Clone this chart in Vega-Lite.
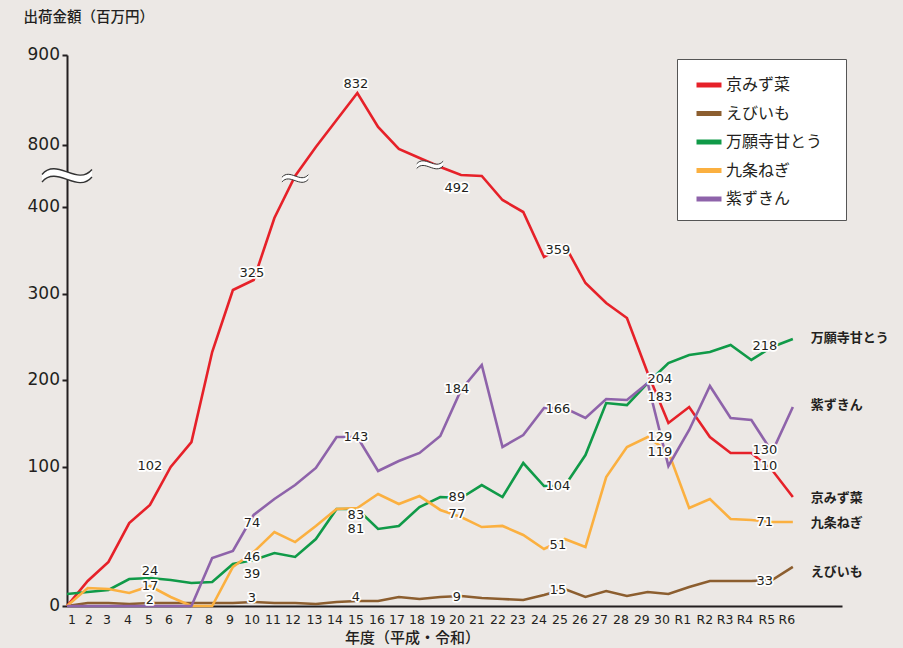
{
  "$schema": "https://vega.github.io/schema/vega-lite/v6.json",
  "width": 775,
  "height": 551,
  "autosize": {"type": "none"},
  "padding": {"left": 67, "top": 55, "right": 61, "bottom": 42},
  "background": "#ece8e5",
  "config": {
    "view": {"stroke": null},
    "font": "Noto Sans CJK JP",
    "axis": {"labelOverlap": false, "grid": false, "labelFlush": false}
  },
  "datasets": {
    "series": [
      {"i": 1, "京みず菜": 0, "えびいも": 0, "万願寺甘とう": 8.6, "九条ねぎ": 0, "紫ずきん": 0},
      {"i": 2, "京みず菜": 18, "えびいも": 2.2, "万願寺甘とう": 10.1, "九条ねぎ": 12.9, "紫ずきん": 0},
      {"i": 3, "京みず菜": 31.7, "えびいも": 2.2, "万願寺甘とう": 11.5, "九条ねぎ": 12.2, "紫ずきん": 0},
      {"i": 4, "京みず菜": 59.7, "えびいも": 1.4, "万願寺甘とう": 19.4, "九条ねぎ": 9.4, "紫ずきん": 0},
      {"i": 5, "京みず菜": 72.7, "えびいも": 2.2, "万願寺甘とう": 20.1, "九条ねぎ": 14.4, "紫ずきん": 0},
      {"i": 6, "京みず菜": 100, "えびいも": 2.2, "万願寺甘とう": 18.7, "九条ねぎ": 6.5, "紫ずきん": 0},
      {"i": 7, "京みず菜": 128.8, "えびいも": 2.2, "万願寺甘とう": 16.5, "九条ねぎ": 0, "紫ずきん": 0},
      {"i": 8, "京みず菜": 232.7, "えびいも": 2.2, "万願寺甘とう": 17.3, "九条ねぎ": 0, "紫ずきん": 34.5},
      {"i": 9, "京みず菜": 304.2, "えびいも": 2.2, "万願寺甘とう": 30.2, "九条ねぎ": 28.1, "紫ずきん": 39.6},
      {"i": 10, "京みず菜": 315.8, "えびいも": 2.9, "万願寺甘とう": 33.1, "九条ねぎ": 38.8, "紫ずきん": 65.5},
      {"i": 11, "京みず菜": 387.3, "えびいも": 2.2, "万願寺甘とう": 38.1, "九条ねぎ": 53.2, "紫ずきん": 77.0},
      {"i": 12, "京みず菜": 600, "えびいも": 2.2, "万願寺甘とう": 35.3, "九条ねぎ": 46.0, "紫ずきん": 87.0},
      {"i": 13, "京みず菜": 787, "えびいも": 1.4, "万願寺甘とう": 48.2, "九条ねぎ": 57.6, "紫ずきん": 99.3},
      {"i": 14, "京みず菜": 827.8, "えびいも": 2.9, "万願寺甘とう": 69.8, "九条ねぎ": 69.8, "紫ずきん": 134.6},
      {"i": 15, "京みず菜": 857.8, "えびいも": 3.6, "万願寺甘とう": 69.8, "九条ねぎ": 70.5, "紫ずきん": 134.6},
      {"i": 16, "京みず菜": 820, "えびいも": 3.6, "万願寺甘とう": 55.4, "九条ねぎ": 80.6, "紫ずきん": 97.1},
      {"i": 17, "京みず菜": 774.2, "えびいも": 6.5, "万願寺甘とう": 57.6, "九条ねぎ": 73.4, "紫ずきん": 106.9},
      {"i": 18, "京みず菜": 716.1, "えびいも": 5.0, "万願寺甘とう": 71.2, "九条ねぎ": 79.1, "紫ずきん": 116.2},
      {"i": 19, "京みず菜": 658.1, "えびいも": 6.5, "万願寺甘とう": 78.4, "九条ねぎ": 69.1, "紫ずきん": 135.8},
      {"i": 20, "京みず菜": 606.5, "えびいも": 7.2, "万願寺甘とう": 77.7, "九条ねぎ": 64.0, "紫ずきん": 188.8},
      {"i": 21, "京みず菜": 600, "えびいも": 5.8, "万願寺甘とう": 87.0, "九条ねぎ": 56.8, "紫ずきん": 217.7},
      {"i": 22, "京みず菜": 445.2, "えびいも": 5.0, "万願寺甘とう": 78.4, "九条ねぎ": 57.6, "紫ずきん": 123.1},
      {"i": 23, "京みず菜": 394.2, "えびいも": 4.3, "万願寺甘とう": 104.6, "九条ねぎ": 51.1, "紫ずきん": 136.9},
      {"i": 24, "京みず菜": 342.3, "えびいも": 7.9, "万願寺甘とう": 86.3, "九条ねぎ": 41.0, "紫ずきん": 168.1},
      {"i": 25, "京みず菜": 356.1, "えびいも": 12.2, "万願寺甘とう": 86.3, "九条ねぎ": 48.2, "紫ずきん": 168.1},
      {"i": 26, "京みず菜": 312.3, "えびいも": 6.5, "万願寺甘とう": 113.8, "九条ねぎ": 42.4, "紫ずきん": 156.5},
      {"i": 27, "京みず菜": 289.2, "えびいも": 10.8, "万願寺甘とう": 173.8, "九条ねぎ": 92.8, "紫ずきん": 178.5},
      {"i": 28, "京みず菜": 271.9, "えびいも": 7.2, "万願寺甘とう": 171.5, "九条ねぎ": 123.1, "紫ずきん": 177.3},
      {"i": 29, "京みず菜": 208.5, "えびいも": 10.1, "万願寺甘とう": 196.9, "九条ねぎ": 134.6, "紫ずきん": 196.9},
      {"i": 30, "京みず菜": 150.8, "えびいも": 8.6, "万願寺甘とう": 220, "九条ねぎ": 117.3, "紫ずきん": 101.2},
      {"i": 31, "京みず菜": 169.2, "えびいも": 13.7, "万願寺甘とう": 229.2, "九条ねぎ": 70.5, "紫ずきん": 142.7},
      {"i": 32, "京みず菜": 134.6, "えびいも": 18.0, "万願寺甘とう": 232.7, "九条ねぎ": 77.0, "紫ずきん": 193.5},
      {"i": 33, "京みず菜": 116.2, "えびいも": 18.0, "万願寺甘とう": 240.8, "九条ねぎ": 62.6, "紫ずきん": 156.5},
      {"i": 34, "京みず菜": 116.2, "えびいも": 18.0, "万願寺甘とう": 223.5, "九条ねぎ": 61.9, "紫ずきん": 154.2},
      {"i": 35, "京みず菜": 97.8, "えびいも": 18.7, "万願寺甘とう": 238.5, "九条ねぎ": 60.4, "紫ずきん": 117.3},
      {"i": 36, "京みず菜": 78.4, "えびいも": 28.1, "万願寺甘とう": 247.7, "九条ねぎ": 60.4, "紫ずきん": 169.2}
    ],
    "labels": [
      {"i": 5.0, "v": 101.2, "t": "102"},
      {"i": 9.92, "v": 323.8, "t": "325"},
      {"i": 14.93, "v": 867.8, "t": "832"},
      {"i": 19.8, "v": 522.6, "t": "492"},
      {"i": 24.67, "v": 350.4, "t": "359"},
      {"i": 29.59, "v": 201.5, "t": "204"},
      {"i": 29.59, "v": 180.8, "t": "183"},
      {"i": 29.59, "v": 134.6, "t": "129"},
      {"i": 29.59, "v": 117.3, "t": "119"},
      {"i": 34.65, "v": 119.6, "t": "130"},
      {"i": 34.65, "v": 101.2, "t": "110"},
      {"i": 34.65, "v": 60.4, "t": "71"},
      {"i": 34.65, "v": 239.6, "t": "218"},
      {"i": 34.65, "v": 18.0, "t": "33"},
      {"i": 14.93, "v": 134.6, "t": "143"},
      {"i": 19.8, "v": 190.0, "t": "184"},
      {"i": 24.67, "v": 166.9, "t": "166"},
      {"i": 24.67, "v": 86.3, "t": "104"},
      {"i": 19.8, "v": 78.4, "t": "89"},
      {"i": 19.8, "v": 66.2, "t": "77"},
      {"i": 14.93, "v": 65.2, "t": "83"},
      {"i": 14.93, "v": 55.6, "t": "81"},
      {"i": 24.67, "v": 43.9, "t": "51"},
      {"i": 14.93, "v": 6.5, "t": "4"},
      {"i": 19.8, "v": 6.5, "t": "9"},
      {"i": 24.67, "v": 11.5, "t": "15"},
      {"i": 9.92, "v": 59.7, "t": "74"},
      {"i": 9.92, "v": 34.9, "t": "46"},
      {"i": 9.92, "v": 23.3, "t": "39"},
      {"i": 5.0, "v": 24.9, "t": "24"},
      {"i": 5.0, "v": 14.7, "t": "17"},
      {"i": 5.0, "v": 4.3, "t": "2"},
      {"i": 9.92, "v": 5.8, "t": "3"}
    ],
    "xlabels": [
      {"i": 1.24, "v": 0, "t": "1"}, {"i": 2.06, "v": 0, "t": "2"}, {"i": 2.93, "v": 0, "t": "3"},
      {"i": 3.94, "v": 0, "t": "4"}, {"i": 4.95, "v": 0, "t": "5"}, {"i": 5.92, "v": 0, "t": "6"},
      {"i": 6.88, "v": 0, "t": "7"}, {"i": 7.85, "v": 0, "t": "8"}, {"i": 8.86, "v": 0, "t": "9"},
      {"i": 9.92, "v": 0, "t": "10"}, {"i": 10.93, "v": 0, "t": "11"}, {"i": 11.9, "v": 0, "t": "12"},
      {"i": 12.93, "v": 0, "t": "13"}, {"i": 13.92, "v": 0, "t": "14"}, {"i": 14.93, "v": 0, "t": "15"},
      {"i": 15.95, "v": 0, "t": "16"}, {"i": 16.91, "v": 0, "t": "17"}, {"i": 17.88, "v": 0, "t": "18"},
      {"i": 18.86, "v": 0, "t": "19"}, {"i": 19.8, "v": 0, "t": "20"}, {"i": 20.77, "v": 0, "t": "21"},
      {"i": 21.78, "v": 0, "t": "22"}, {"i": 22.74, "v": 0, "t": "23"}, {"i": 23.76, "v": 0, "t": "24"},
      {"i": 24.77, "v": 0, "t": "25"}, {"i": 25.74, "v": 0, "t": "26"}, {"i": 26.7, "v": 0, "t": "27"},
      {"i": 27.71, "v": 0, "t": "28"}, {"i": 28.72, "v": 0, "t": "29"}, {"i": 29.69, "v": 0, "t": "30"},
      {"i": 30.7, "v": 0, "t": "R1"}, {"i": 31.76, "v": 0, "t": "R2"}, {"i": 32.73, "v": 0, "t": "R3"},
      {"i": 33.69, "v": 0, "t": "R4"}, {"i": 34.75, "v": 0, "t": "R5"}, {"i": 35.71, "v": 0, "t": "R6"}
    ],
    "ylabels": [
      {"i": 1, "v": 0, "t": "0"}, {"i": 1, "v": 100, "t": "100"}, {"i": 1, "v": 200, "t": "200"},
      {"i": 1, "v": 300, "t": "300"}, {"i": 1, "v": 400, "t": "400"}, {"i": 1, "v": 800, "t": "800"},
      {"i": 1, "v": 900, "t": "900"}
    ],
    "ends": [
      {"i": 36, "v": 248.8, "s": "万願寺甘とう"},
      {"i": 36, "v": 171.5, "s": "紫ずきん"},
      {"i": 36, "v": 77.7, "s": "京みず菜"},
      {"i": 36, "v": 59.7, "s": "九条ねぎ"},
      {"i": 36, "v": 24.5, "s": "えびいも"}
    ],
    "breaks": [
      {"i": 1, "v": 626, "k": "axis"},
      {"i": 12, "v": 600, "k": "line"},
      {"i": 18.5, "v": 687, "k": "line"}
    ]
  },
  "layer": [
    {
      "data": {"name": "series"},
      "transform": [{"fold": ["京みず菜", "えびいも", "万願寺甘とう", "九条ねぎ", "紫ずきん"], "as": ["s", "v"]}],
      "mark": {"type": "line", "strokeWidth": 2.6, "strokeJoin": "miter"},
      "encoding": {
        "x": {
          "field": "i", "type": "quantitative",
          "scale": {"domain": [1, 38.37], "nice": false, "zero": false},
          "axis": {
            "title": "年度（平成・令和）",
            "titleFont": "Noto Sans CJK JP", "titleFontSize": 15, "titleFontWeight": 500, "titleColor": "#231f20",
            "titleX": 345, "titleY": 31, "titleAlign": "center", "titleBaseline": "middle", "titleAnchor": null,
            "labels": false, "ticks": false, "domainColor": "#231f20", "domainWidth": 2, "grid": false
          }
        },
        "y": {
          "field": "v", "type": "quantitative",
          "scale": {"type": "linear", "domain": [0, 100, 400, 800, 900], "range": [551, 412, 152, 90, 0], "nice": false, "zero": false},
          "axis": {
            "title": "出荷金額（百万円）",
            "titleFont": "Noto Sans CJK JP", "titleFontSize": 14.5, "titleFontWeight": 500, "titleColor": "#231f20",
            "titleAngle": 0, "titleAlign": "left", "titleBaseline": "middle", "titleX": -44, "titleY": -37.5, "titleAnchor": null,
            "values": [0, 100, 200, 300, 400, 800, 900],
            "labels": false,
            "tickSize": 5, "tickColor": "#231f20", "tickWidth": 2,
            "domainColor": "#231f20", "domainWidth": 2, "grid": false
          }
        },
        "color": {
          "field": "s", "type": "nominal",
          "scale": {
            "domain": ["京みず菜", "えびいも", "万願寺甘とう", "九条ねぎ", "紫ずきん"],
            "range": ["#e62129", "#8c5e2f", "#109a48", "#fbb040", "#8e63aa"]
          },
          "legend": {
            "title": null, "orient": "none", "legendX": 610, "legendY": 4,
            "fillColor": "white", "strokeColor": "#555555", "padding": 11,
            "symbolType": "stroke", "symbolSize": 625, "symbolStrokeWidth": 5, "symbolOffset": 6,
            "labelFont": "Noto Sans CJK JP", "labelFontSize": 16, "labelColor": "#231f20",
            "labelOffset": 2, "rowPadding": 3.5, "labelExpr": "datum.label + '⠀'"
          }
        }
      }
    },
    {
      "data": {"name": "breaks"},
      "transform": [{"filter": "datum.k == 'axis'"}],
      "mark": {"type": "point", "shape": "M -1 0.1 C -0.4 -0.6 0.4 0.6 1 -0.1 L 1 0.2 C 0.4 0.9 -0.4 -0.3 -1 0.4 Z", "size": 2500, "filled": true, "fill": "white", "opacity": 1, "strokeWidth": 0},
      "encoding": {"x": {"field": "i", "type": "quantitative"}, "y": {"field": "v", "type": "quantitative"}}
    },
    {
      "data": {"name": "breaks"},
      "transform": [{"filter": "datum.k == 'axis'"}],
      "mark": {"type": "point", "shape": "M -1 0.1 C -0.4 -0.6 0.4 0.6 1 -0.1 M 1 0.2 C 0.4 0.9 -0.4 -0.3 -1 0.4", "size": 2500, "filled": false, "stroke": "#333333", "strokeWidth": 1.3, "opacity": 1},
      "encoding": {"x": {"field": "i", "type": "quantitative"}, "y": {"field": "v", "type": "quantitative"}}
    },
    {
      "data": {"name": "breaks"},
      "transform": [{"filter": "datum.k == 'line'"}],
      "mark": {"type": "point", "shape": "M -1 0.1 C -0.4 -0.6 0.4 0.6 1 -0.1 L 1 0.25 C 0.4 0.95 -0.4 -0.25 -1 0.45 Z", "size": 700, "filled": true, "fill": "white", "opacity": 1, "strokeWidth": 0},
      "encoding": {"x": {"field": "i", "type": "quantitative"}, "y": {"field": "v", "type": "quantitative"}}
    },
    {
      "data": {"name": "breaks"},
      "transform": [{"filter": "datum.k == 'line'"}],
      "mark": {"type": "point", "shape": "M -1 0.1 C -0.4 -0.6 0.4 0.6 1 -0.1 M 1 0.25 C 0.4 0.95 -0.4 -0.25 -1 0.45", "size": 700, "filled": false, "stroke": "#333333", "strokeWidth": 1, "opacity": 1},
      "encoding": {"x": {"field": "i", "type": "quantitative"}, "y": {"field": "v", "type": "quantitative"}}
    },
    {
      "data": {"name": "labels"},
      "mark": {"type": "text", "font": "DejaVu Sans", "fontSize": 13, "align": "center", "baseline": "middle", "fill": "white", "stroke": "white", "strokeWidth": 3.5, "strokeJoin": "round"},
      "encoding": {"x": {"field": "i", "type": "quantitative"}, "y": {"field": "v", "type": "quantitative"}, "text": {"field": "t"}}
    },
    {
      "data": {"name": "labels"},
      "mark": {"type": "text", "font": "DejaVu Sans", "fontSize": 13, "align": "center", "baseline": "middle", "fill": "#231f20"},
      "encoding": {"x": {"field": "i", "type": "quantitative"}, "y": {"field": "v", "type": "quantitative"}, "text": {"field": "t"}}
    },
    {
      "data": {"name": "xlabels"},
      "mark": {"type": "text", "font": "DejaVu Sans", "fontSize": 12.5, "align": "center", "baseline": "middle", "dy": 14, "fill": "#231f20"},
      "encoding": {"x": {"field": "i", "type": "quantitative"}, "y": {"field": "v", "type": "quantitative"}, "text": {"field": "t"}}
    },
    {
      "data": {"name": "ylabels"},
      "mark": {"type": "text", "font": "DejaVu Sans", "fontSize": 17, "align": "right", "baseline": "middle", "dx": -7, "fill": "#231f20"},
      "encoding": {"x": {"field": "i", "type": "quantitative"}, "y": {"field": "v", "type": "quantitative"}, "text": {"field": "t"}}
    },
    {
      "data": {"name": "ends"},
      "mark": {"type": "text", "font": "Noto Sans CJK JP", "fontSize": 13, "fontWeight": "bold", "align": "left", "baseline": "middle", "dx": 18, "fill": "#231f20"},
      "encoding": {"x": {"field": "i", "type": "quantitative"}, "y": {"field": "v", "type": "quantitative"}, "text": {"field": "s"}}
    }
  ]
}
